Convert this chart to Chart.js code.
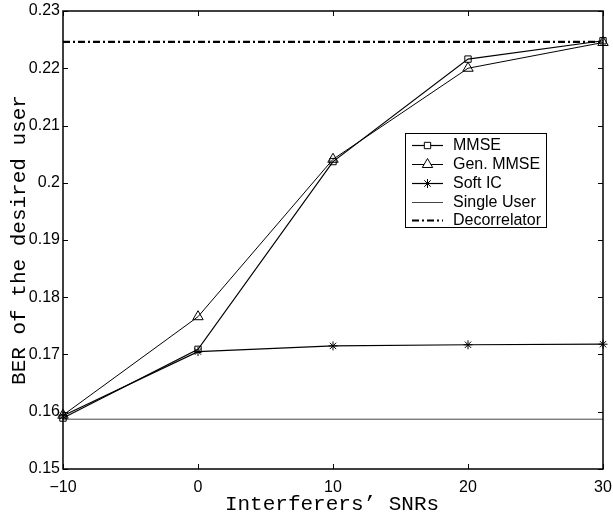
<!DOCTYPE html>
<html>
<head>
<meta charset="utf-8">
<script src="https://cdn.jsdelivr.net/npm/chart.js@4/dist/chart.umd.min.js"></script>
<style>
  html, body { margin: 0; padding: 0; background: #fff; }
  #wrap { width: 613px; height: 516px; position: relative; }
</style>
</head>
<body>
<div id="wrap"><canvas id="berChart"></canvas></div>
<script>
// interferers' SNR values
const snrs = [-10, 0, 10, 20, 30];

// BER of the desired user per detector
const mmse = [0.1589, 0.1709, 0.2037, 0.2216, 0.2248];
const genMmse = [0.1594, 0.1766, 0.2041, 0.2200, 0.2245];
const softIc = [0.1593, 0.1705, 0.1715, 0.1717, 0.1718];

// flat reference curves (two end points each)
const flatX = [-10, 30];
const singleUser = [0.1587, 0.1587];
const decorrelator = [0.2246, 0.2246];

const xTicks = [-10, 0, 10, 20, 30];
const yTicks = [0.15, 0.16, 0.17, 0.18, 0.19, 0.2, 0.21, 0.22, 0.23];

function pts(xs, ys) {
    return xs.map((x, i) => ({ x: x, y: ys[i] }));
}

const series = [
    { label: "MMSE", data: pts(snrs, mmse), style: "rect", radius: 4.5, width: 1.2 },
    { label: "Gen. MMSE", data: pts(snrs, genMmse), style: "triangle", radius: 6, width: 1 },
    { label: "Soft IC", data: pts(snrs, softIc), style: "star", radius: 4.5, width: 1.2 },
    { label: "Single User", data: pts(flatX, singleUser), style: false, radius: 0, width: 1, color: "#444" },
    { label: "Decorrelator", data: pts(flatX, decorrelator), style: false, radius: 0, width: 2.2, dash: [7, 3, 2, 3] }
];

/* ---------- frame, inward ticks, axis titles, legend ---------- */
const matlabLook = {
    id: "matlabLook",
    afterDraw(chart) {
        const ctx = chart.ctx;
        const a = chart.chartArea;
        const xs = chart.scales.x, ys = chart.scales.y;
        ctx.save();
        ctx.strokeStyle = "#000";
        ctx.lineWidth = 1.5;
        ctx.strokeRect(a.left, a.top, a.right - a.left, a.bottom - a.top);

        ctx.lineWidth = 1;
        ctx.beginPath();
        xTicks.forEach(v => {
            const px = Math.round(xs.getPixelForValue(v)) + 0.5;
            ctx.moveTo(px, a.bottom); ctx.lineTo(px, a.bottom - 5);
            ctx.moveTo(px, a.top); ctx.lineTo(px, a.top + 5);
        });
        yTicks.forEach(v => {
            const py = Math.round(ys.getPixelForValue(v)) + 0.5;
            ctx.moveTo(a.left, py); ctx.lineTo(a.left + 5, py);
            ctx.moveTo(a.right, py); ctx.lineTo(a.right - 5, py);
        });
        ctx.stroke();

        // axis titles
        ctx.fillStyle = "#000";
        ctx.font = "21px 'Liberation Mono', 'DejaVu Sans Mono', monospace";
        ctx.textAlign = "center";
        ctx.textBaseline = "alphabetic";
        ctx.fillText("Interferers\u2019 SNRs", 332, 510);
        ctx.save();
        ctx.translate(25, 240);
        ctx.rotate(-Math.PI / 2);
        ctx.fillText("BER of the desired user", 0, 0);
        ctx.restore();

        // legend
        const box = { l: 405, t: 133, r: 546, b: 227 };
        ctx.fillStyle = "#fff";
        ctx.fillRect(box.l, box.t, box.r - box.l, box.b - box.t);
        ctx.lineWidth = 1;
        ctx.strokeStyle = "#000";
        ctx.strokeRect(box.l + 0.5, box.t + 0.5, box.r - box.l, box.b - box.t);
        ctx.font = "16px 'Liberation Sans', Arial, sans-serif";
        ctx.textAlign = "left";
        ctx.textBaseline = "middle";
        const rowY = [145, 164, 183, 202, 220];
        series.forEach((s, i) => {
            const y = rowY[i] + 0.5;
            ctx.save();
            ctx.strokeStyle = s.color || "#000";
            ctx.lineWidth = s.width;
            ctx.setLineDash(s.dash || []);
            ctx.beginPath();
            ctx.moveTo(412, y); ctx.lineTo(443, y);
            ctx.stroke();
            ctx.restore();
            if (s.style) {
                ctx.save();
                ctx.strokeStyle = "#000";
                ctx.fillStyle = "#fff";
                ctx.lineWidth = 1;
                Chart.helpers.drawPoint(ctx, { pointStyle: s.style, radius: s.radius, borderWidth: 1 }, 427.5, y);
                ctx.restore();
            }
            ctx.fillStyle = "#000";
            ctx.fillText(s.label, 453, rowY[i] + 1);
        });
        ctx.restore();
    }
};

new Chart(document.getElementById("berChart"), {
    type: "line",
    data: {
        datasets: series.map(s => ({
            label: s.label,
            data: s.data,
            borderColor: s.color || "#000",
            borderWidth: s.width,
            borderDash: s.dash || [],
            pointStyle: s.style,
            pointRadius: s.radius,
            pointBorderColor: "#000",
            pointBackgroundColor: "rgba(255,255,255,0)",
            pointBorderWidth: 1,
            tension: 0,
            fill: false,
            clip: false
        }))
    },
    plugins: [matlabLook],
    options: {
        responsive: true,
        maintainAspectRatio: false,
        animation: false,
        layout: { padding: { left: 0, right: 10, top: 11, bottom: 0 } },
        plugins: { legend: { display: false }, tooltip: { enabled: false } },
        scales: {
            x: {
                type: "linear",
                min: -10,
                max: 30,
                afterBuildTicks: sc => { sc.ticks = xTicks.map(v => ({ value: v })); },
                afterFit: sc => { sc.height = 47; sc.paddingLeft = 0; sc.paddingRight = 0; },
                grid: { display: false, drawTicks: false },
                border: { display: false },
                ticks: {
                    padding: 9,
                    color: "#000",
                    font: { family: "'Liberation Sans', Arial, sans-serif", size: 16 },
                    maxRotation: 0,
                    callback: v => (v < 0 ? "\u2212" + Math.abs(v) : String(v))
                }
            },
            y: {
                min: 0.15,
                max: 0.23,
                afterBuildTicks: sc => { sc.ticks = yTicks.map(v => ({ value: v })); },
                afterFit: sc => { sc.width = 63; sc.paddingTop = 0; sc.paddingBottom = 0; },
                grid: { display: false, drawTicks: false },
                border: { display: false },
                ticks: {
                    padding: 3,
                    color: "#000",
                    font: { family: "'Liberation Sans', Arial, sans-serif", size: 16 },
                    callback: v => String(+v.toFixed(2))
                }
            }
        }
    }
});
</script>
</body>
</html>
